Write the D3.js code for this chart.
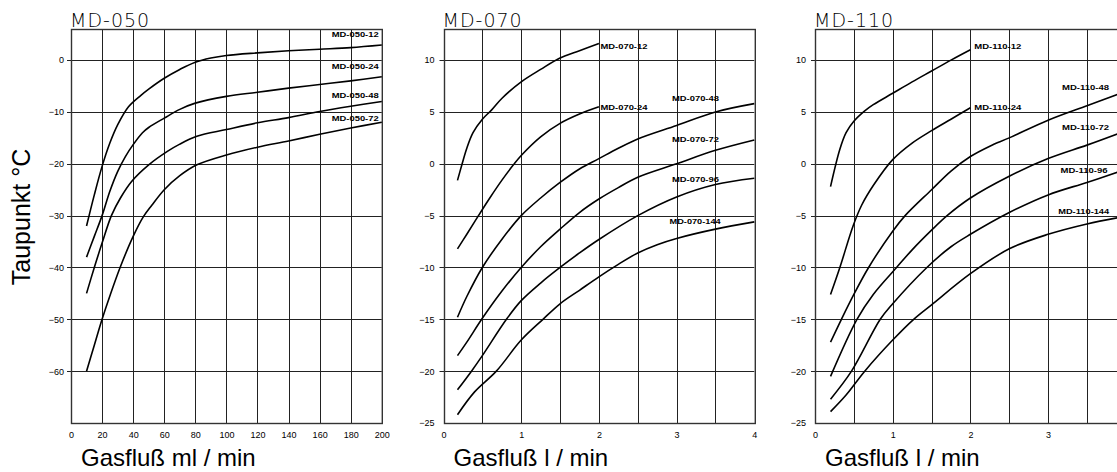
<!DOCTYPE html>
<html>
<head>
<meta charset="utf-8">
<script src="https://cdn.jsdelivr.net/npm/d3@7"></script>
<style>
  body { margin: 0; background: #fff; }
  svg { display: block; }
</style>
</head>
<body>
<svg width="1117" height="472"></svg>
<script>
// Werte (x: Gasfluss, y: Taupunkt °C)

// MD-050, Gasfluss in ml/min
var md050_12 = [[10,-32],[15,-26],[20,-20.5],[25,-16],[30,-12.5],[37,-9],[45,-6.8],[50,-5.6],[60,-3.5],[70,-1.8],[80,-0.4],[90,0.4],[100,0.9],[120,1.4],[140,1.8],[160,2.1],[180,2.4],[200,2.9]];
var md050_24 = [[10,-38],[15,-34],[20,-30],[25,-25.3],[30,-21.5],[35,-18.6],[40,-16.3],[46,-14],[50,-13],[60,-11.2],[70,-9.5],[80,-8.3],[100,-7],[120,-6.2],[140,-5.4],[160,-4.7],[180,-4],[200,-3.2]];
var md050_48 = [[10,-45],[15,-40],[20,-35.3],[26,-30],[32,-26.5],[39,-23.4],[50,-20.2],[62,-17.6],[70,-16.2],[81,-14.7],[100,-13.4],[120,-12.1],[140,-11.1],[160,-9.9],[180,-8.9],[200,-8]];
var md050_72 = [[10,-60],[15,-55],[20,-50],[25,-45.5],[31.6,-40],[40,-34],[46.6,-30.2],[52,-28],[60,-25],[70,-22.3],[81,-20.2],[100,-18.3],[120,-16.8],[140,-15.6],[160,-14.3],[180,-13.1],[200,-12]];

// MD-070, Gasfluss in l/min
var md070_12 = [[0.18,-1.6],[0.24,0],[0.3,1.5],[0.38,3],[0.5,4.3],[0.62,5.2],[0.75,6.3],[1,7.9],[1.25,9.1],[1.5,10.2],[1.75,10.9],[2,11.6]];
var md070_24 = [[0.18,-8.2],[0.3,-6.8],[0.45,-5],[0.6,-3.25],[0.75,-1.6],[0.9,-0.1],[1,0.8],[1.25,2.6],[1.5,3.9],[1.75,4.8],[2,5.5]];
var md070_48 = [[0.18,-14.8],[0.3,-12.8],[0.5,-10],[0.75,-7.3],[1,-5],[1.25,-3.3],[1.5,-1.8],[1.75,-0.5],[2,0.5],[2.25,1.5],[2.5,2.4],[3,3.7],[3.5,5.0],[4,5.8]];
var md070_72 = [[0.18,-18.5],[0.3,-17.2],[0.5,-14.9],[0.75,-12.3],[1,-10],[1.25,-8],[1.5,-6.3],[1.75,-4.7],[2,-3.4],[2.25,-2.3],[2.5,-1.3],[3,0],[3.5,1.3],[4,2.3]];
var md070_96 = [[0.18,-21.8],[0.36,-20],[0.5,-18.5],[0.81,-15],[1,-13.2],[1.25,-11.5],[1.5,-10],[1.75,-8.6],[2,-7.3],[2.5,-5],[3,-3.2],[3.5,-2.0],[4,-1.4]];
var md070_144 = [[0.18,-24.2],[0.4,-22],[0.68,-20],[1,-17],[1.28,-15],[1.5,-13.5],[1.75,-12.2],[2,-10.9],[2.25,-9.7],[2.5,-8.6],[2.75,-7.8],[3,-7.2],[3.5,-6.3],[4,-5.6]];

// MD-110, Gasfluss in l/min
var md110_12 = [[0.2,-2.2],[0.32,1.4],[0.4,3],[0.5,4.1],[0.64,5.1],[0.75,5.7],[1,6.8],[1.25,7.9],[1.5,8.95],[1.75,10],[2,11]];
var md110_24 = [[0.2,-12.6],[0.32,-10],[0.49,-6],[0.6,-4],[0.75,-2.1],[1,0.4],[1.25,2.0],[1.5,3.2],[1.75,4.3],[2,5.4]];
var md110_48 = [[0.2,-17.2],[0.34,-15],[0.5,-12.6],[0.69,-10],[1,-6.5],[1.16,-5],[1.5,-2.5],[1.75,-0.7],[2,0.7],[2.25,1.7],[2.5,2.5],[3,4.2],[3.5,5.6],[3.9,6.7]];
var md110_72 = [[0.2,-20.5],[0.54,-15],[0.75,-12.6],[1.05,-10],[1.25,-8.3],[1.5,-6.4],[1.7,-5],[2,-3.3],[2.5,-1.2],[3,0.5],[3.5,1.8],[3.9,2.9]];
var md110_96 = [[0.2,-22.7],[0.47,-20],[0.84,-15],[1,-13.5],[1.44,-10],[1.75,-8],[2,-6.8],[2.5,-4.7],[3,-3.0],[3.5,-1.8],[3.9,-0.8]];
var md110_144 = [[0.2,-23.9],[0.4,-22.3],[0.64,-20],[1,-17],[1.27,-15],[1.5,-13.6],[2,-10.6],[2.5,-8.2],[3,-6.8],[3.5,-5.8],[3.9,-5.2]];

var titel = ["MD-050", "MD-070", "MD-110"];
var xTitel = ["Gasfluß ml / min", "Gasfluß l / min", "Gasfluß l / min"];
var yTitel = "Taupunkt °C";
var ticks050x = [0,20,40,60,80,100,120,140,160,180,200];
var ticks050y = [0,-10,-20,-30,-40,-50,-60];
var ticks070x = [0,1,2,3,4];
var ticks110x = [0,1,2,3];
var ticksLy = [10,5,0,-5,-10,-15,-20,-25];

// Diagramme: Kurven mit Namen und Position des Beschriftungstextes (in Datenwerten)
var diagramme = [
  { titel: titel[0], xTitel: xTitel[0], left: 71, xDom: [0,200], yDom: [-70,6],
    gridX: d3.range(20, 200, 20), gridY: d3.range(-60, 1, 10), ticksX: ticks050x, ticksY: ticks050y,
    kurven: [
      { name: "MD-050-12", d: md050_12, lx: 198, ly: 4.4, anchor: "end" },
      { name: "MD-050-24", d: md050_24, lx: 198, ly: -1.75, anchor: "end" },
      { name: "MD-050-48", d: md050_48, lx: 198, ly: -7.35, anchor: "end" },
      { name: "MD-050-72", d: md050_72, lx: 198, ly: -11.8, anchor: "end" }
    ] },
  { titel: titel[1], xTitel: xTitel[1], left: 443.5, xDom: [0,4], yDom: [-25,13],
    gridX: d3.range(0.5, 4, 0.5), gridY: d3.range(-20, 11, 5), ticksX: ticks070x, ticksY: ticksLy,
    kurven: [
      { name: "MD-070-12", d: md070_12, lx: 2.02, ly: 11.1 },
      { name: "MD-070-24", d: md070_24, lx: 2.02, ly: 5.23 },
      { name: "MD-070-48", d: md070_48, lx: 2.94, ly: 6.1 },
      { name: "MD-070-72", d: md070_72, lx: 2.94, ly: 2.14 },
      { name: "MD-070-96", d: md070_96, lx: 2.94, ly: -1.8 },
      { name: "MD-070-144", d: md070_144, lx: 2.91, ly: -5.8 }
    ] },
  { titel: titel[2], xTitel: xTitel[2], left: 815, xDom: [0,4], yDom: [-25,13],
    gridX: d3.range(0.5, 4, 0.5), gridY: d3.range(-20, 11, 5), ticksX: ticks110x, ticksY: ticksLy,
    kurven: [
      { name: "MD-110-12", d: md110_12, lx: 2.05, ly: 11.1 },
      { name: "MD-110-24", d: md110_24, lx: 2.05, ly: 5.23 },
      { name: "MD-110-48", d: md110_48, lx: 3.18, ly: 7.16 },
      { name: "MD-110-72", d: md110_72, lx: 3.18, ly: 3.3 },
      { name: "MD-110-96", d: md110_96, lx: 3.16, ly: -0.85 },
      { name: "MD-110-144", d: md110_144, lx: 3.13, ly: -4.8 }
    ] }
];

var svg = d3.select("svg");
var top_ = 29, bottom = 423, breite = 310.8;
var schrift = "'Liberation Sans', Arial, sans-serif";

diagramme.forEach(function(p) {
  var x = d3.scaleLinear().domain(p.xDom).range([p.left, p.left + breite]);
  var y = d3.scaleLinear().domain(p.yDom).range([bottom, top_]);
  var g = svg.append("g");

  // Gitter
  g.selectAll(".vx").data(p.gridX).enter().append("line")
    .attr("x1", function(d){ return Math.round(x(d)) + 0.5; })
    .attr("x2", function(d){ return Math.round(x(d)) + 0.5; })
    .attr("y1", top_).attr("y2", bottom)
    .attr("stroke", "#222").attr("stroke-width", 1);
  g.selectAll(".hy").data(p.gridY).enter().append("line")
    .attr("x1", p.left - 4).attr("x2", p.left + breite)
    .attr("y1", function(d){ return Math.round(y(d)) + 0.5; })
    .attr("y2", function(d){ return Math.round(y(d)) + 0.5; })
    .attr("stroke", "#222").attr("stroke-width", 1);

  // Rahmen
  g.append("rect")
    .attr("x", Math.round(p.left) + 0.5).attr("y", top_ + 0.5)
    .attr("width", breite).attr("height", bottom - top_)
    .attr("fill", "none").attr("stroke", "#333").attr("stroke-width", 1.4);

  // Achsen
  var ax = g.append("g").attr("transform", "translate(0," + bottom + ")")
    .call(d3.axisBottom(x).tickValues(p.ticksX).tickFormat(d3.format("d")).tickSize(0).tickPadding(9));
  var ay = g.append("g").attr("transform", "translate(" + p.left + ",0)")
    .call(d3.axisLeft(y).tickValues(p.ticksY).tickSize(0).tickPadding(p.left < 100 ? 7 : 9));
  [ax, ay].forEach(function(a){
    a.select(".domain").remove();
    a.selectAll("text").attr("font-family", schrift).attr("font-size", 9).attr("fill", "#000");
  });

  // Kurven
  var linie = d3.line()
    .x(function(d){ return x(d[0]); })
    .y(function(d){ return y(d[1]); })
    .curve(d3.curveCatmullRom.alpha(0.5));
  g.selectAll(".kurve").data(p.kurven).enter().append("path")
    .attr("d", function(k){ return linie(k.d); })
    .attr("fill", "none").attr("stroke", "#000").attr("stroke-width", 1.6);

  g.selectAll(".lbl").data(p.kurven).enter().append("text")
    .text(function(k){ return k.name; })
    .attr("x", function(k){ return x(k.lx); })
    .attr("y", function(k){ return y(k.ly); })
    .attr("text-anchor", function(k){ return k.anchor || "start"; })
    .attr("textLength", function(k){ return k.name.length > 9 ? 51 : 47; })
    .attr("lengthAdjust", "spacingAndGlyphs")
    .attr("font-family", schrift).attr("font-size", 7.5).attr("font-weight", "bold")
    .attr("fill", "#000");

  // Titel
  g.append("text").text(p.titel)
    .attr("x", p.left - 1).attr("y", 27)
    .attr("font-family", "'DejaVu Sans', sans-serif").attr("font-weight", 200)
    .attr("font-size", 19).attr("letter-spacing", 1).attr("fill", "#000");

  g.append("text").text(p.xTitel)
    .attr("x", p.left + 10).attr("y", 466)
    .attr("font-family", schrift).attr("font-size", 24).attr("fill", "#000");
});

svg.append("text").text(yTitel)
  .attr("transform", "translate(29.5,217) rotate(-90)")
  .attr("text-anchor", "middle")
  .attr("font-family", schrift).attr("font-size", 25).attr("fill", "#000");
</script>
</body>
</html>
